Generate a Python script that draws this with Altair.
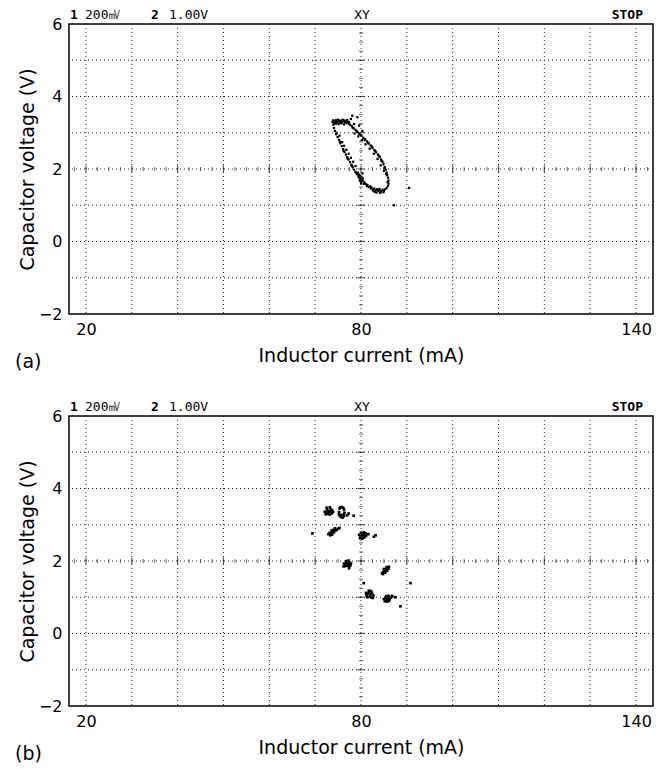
import altair as alt
import pandas as pd

# ---------------- axes / graticule ----------------
X_DOMAIN = [16.3, 143.7]
Y_DOMAIN = [-2, 6]
X_LABELS = [20, 80, 140]
Y_LABELS = [-2, 0, 2, 4, 6]
X_GRID = [20, 30, 40, 50, 60, 70, 80, 90, 100, 110, 120, 130, 140]
Y_GRID = [-1, 0, 1, 2, 3, 4, 5]
X_CENTER = 80
Y_CENTER = 2
RET_Y_MINOR = [-1.75, -1.5, -1.25, -0.75, -0.5, -0.25, 0.25, 0.5, 0.75, 1.25, 1.5, 1.75,
               2.25, 2.5, 2.75, 3.25, 3.5, 3.75, 4.25, 4.5, 4.75, 5.25, 5.5, 5.75]
RET_Y_MAJOR = [-1, 0, 1, 2, 3, 4, 5]
RET_X_MINOR = [17.5, 22.5, 25, 27.5, 32.5, 35, 37.5, 42.5, 45, 47.5, 52.5, 55, 57.5,
               62.5, 65, 67.5, 72.5, 75, 77.5, 82.5, 85, 87.5, 92.5, 95, 97.5,
               102.5, 105, 107.5, 112.5, 115, 117.5, 122.5, 125, 127.5, 132.5, 135,
               137.5, 142.5]
RET_X_MAJOR = [20, 30, 40, 50, 60, 70, 80, 90, 100, 110, 120, 130, 140]

# ---------------- panel (a): limit-cycle loop ----------------
A_X = [73.8, 73.9, 74.0, 74.2, 74.4, 74.6, 74.8, 75.0, 75.2, 75.4, 75.6, 75.8, 76.0, 76.2, 76.5, 76.8, 77.1, 77.3,
       74.0, 74.5, 75.1, 75.7, 76.3,
       77.6, 78.0, 78.4, 78.8, 79.2, 79.6, 80.1, 80.5, 80.9, 81.3, 81.7, 82.1, 82.5, 82.9, 83.3, 83.7, 84.1, 84.4,
       84.7, 84.9, 85.2, 85.4, 85.6, 85.7, 85.9, 86.0, 86.0, 85.9,
       78.6, 79.4, 80.2, 81.0, 81.9, 82.8, 83.6, 84.3, 85.0,
       85.6, 85.3, 85.0, 84.7, 84.4, 84.1, 83.8, 83.5, 83.2, 82.9, 82.6, 82.3, 82.0, 81.7, 81.4, 81.1, 80.8, 80.5,
       80.2, 79.9, 79.6, 79.4,
       79.5, 79.8, 80.1, 80.4, 79.7, 80.0, 80.3, 79.3, 84.9, 84.2, 83.4, 82.7,
       79.1, 78.8, 78.5, 78.2, 77.9, 77.6, 77.3, 77.0, 76.7, 76.4, 76.1, 75.8, 75.5, 75.2, 74.9, 74.6, 74.3, 74.1,
       75.9, 76.3, 76.8, 77.3, 77.8, 78.3, 78.8, 75.3,
       78.1, 79.2, 78.5, 77.8, 79.6, 80.3,
       90.5, 87.2,
       74.3, 74.6, 75.0, 75.5, 76.0, 76.6, 77.0, 77.4, 78.2, 79.0, 79.9, 80.8, 81.6, 82.4, 83.1, 83.9, 84.5, 85.1,
       85.5, 85.8, 84.0, 83.0, 82.2, 81.3, 80.6, 80.0, 78.9, 78.0, 77.1, 76.2, 75.4, 74.7]
A_Y = [3.30, 3.34, 3.27, 3.33, 3.30, 3.35, 3.29, 3.32, 3.34, 3.30, 3.33, 3.28, 3.31, 3.34, 3.30, 3.27, 3.31, 3.25,
       3.22, 3.25, 3.24, 3.26, 3.23,
       3.22, 3.18, 3.12, 3.08, 3.02, 2.97, 2.92, 2.86, 2.82, 2.76, 2.70, 2.65, 2.58, 2.52, 2.46, 2.40, 2.33, 2.26,
       2.20, 2.13, 2.05, 1.98, 1.90, 1.83, 1.76, 1.68, 1.60, 1.54,
       2.98, 2.90, 2.80, 2.68, 2.56, 2.42, 2.28, 2.10, 1.95,
       1.48, 1.44, 1.40, 1.43, 1.38, 1.42, 1.39, 1.44, 1.41, 1.46, 1.43, 1.49, 1.52, 1.50, 1.56, 1.58, 1.62, 1.66,
       1.69, 1.72, 1.76, 1.80,
       1.85, 1.82, 1.78, 1.74, 1.68, 1.60, 1.88, 1.90, 1.36, 1.34, 1.35, 1.40,
       1.86, 1.92, 1.98, 2.05, 2.12, 2.19, 2.26, 2.33, 2.40, 2.47, 2.55, 2.63, 2.71, 2.80, 2.88, 2.96, 3.05, 3.13,
       2.74, 2.64, 2.53, 2.42, 2.31, 2.20, 2.08, 2.92,
       3.47, 3.43, 3.24, 3.38, 3.20, 3.05,
       1.48, 1.00,
       3.27, 3.31, 3.36, 3.28, 3.36, 3.33, 3.35, 3.29, 3.14, 3.05, 2.94, 2.80, 2.72, 2.62, 2.50, 2.36, 2.22, 2.02,
       1.86, 1.64, 1.45, 1.37, 1.46, 1.53, 1.59, 1.65, 1.90, 2.08, 2.28, 2.50, 2.75, 3.00]

# ---------------- panel (b): period-8 clusters ----------------
B_X = [72.1, 72.4, 72.7, 73.0, 73.3, 73.6, 73.9, 72.3, 72.8, 73.2, 73.7, 72.6, 73.4, 72.9, 73.1, 72.5, 73.2,
       75.2, 75.3, 75.5, 75.8, 76.1, 76.3, 76.4, 76.3, 76.0, 75.7, 75.4, 75.2, 75.6, 76.2, 77.3, 77.0,
       72.9, 73.2, 73.5, 73.8, 74.1, 74.4, 74.7, 75.0, 73.3, 73.7, 74.0, 74.3, 73.6, 75.3,
       79.6, 79.9, 80.2, 80.5, 80.8, 81.1, 79.8, 80.3, 80.7, 80.0, 80.6, 81.0, 82.8, 83.2, 81.6,
       76.3, 76.6, 76.9, 77.2, 77.5, 77.8, 76.5, 77.0, 77.4, 76.8, 77.3, 76.2, 77.7,
       84.6, 84.9, 85.2, 85.5, 85.8, 86.1, 84.8, 85.3, 85.7, 85.0, 85.6, 86.0,
       81.2, 81.5, 81.8, 82.1, 82.4, 82.7, 81.4, 81.9, 82.3, 81.7, 82.2, 81.1, 82.6,
       85.0, 85.3, 85.6, 85.9, 86.2, 86.5, 85.2, 85.7, 86.1, 85.5, 86.0, 86.8,
       69.4, 90.8, 88.6, 80.6, 86.8, 77.4, 87.5, 78.4]
B_Y = [3.36, 3.32, 3.38, 3.34, 3.37, 3.31, 3.35, 3.29, 3.30, 3.28, 3.40, 3.42, 3.43, 3.36, 3.32, 3.47, 3.48,
       3.35, 3.45, 3.48, 3.49, 3.47, 3.42, 3.33, 3.24, 3.20, 3.21, 3.24, 3.28, 3.27, 3.28, 3.31, 3.26,
       2.74, 2.78, 2.76, 2.81, 2.79, 2.84, 2.86, 2.89, 2.71, 2.73, 2.86, 2.90, 2.84, 2.91,
       2.72, 2.68, 2.74, 2.70, 2.73, 2.69, 2.63, 2.62, 2.65, 2.78, 2.79, 2.76, 2.67, 2.71, 2.74,
       1.93, 1.90, 1.95, 1.92, 1.96, 1.93, 1.86, 1.87, 1.85, 2.00, 2.01, 1.85, 1.88,
       1.66, 1.70, 1.73, 1.77, 1.80, 1.84, 1.64, 1.68, 1.73, 1.78, 1.83, 1.79,
       1.05, 1.10, 1.13, 1.08, 1.12, 1.05, 1.00, 1.02, 0.99, 1.18, 1.17, 1.12, 0.98,
       0.95, 0.98, 0.93, 0.97, 0.94, 0.99, 0.89, 0.88, 0.90, 1.03, 1.04, 1.02,
       2.76, 1.39, 0.75, 1.39, 1.04, 1.80, 1.00, 3.25]

HEADER = ["1", "200\u33b7", "2", "1.00V", "XY", "STOP"]
X_TITLE = "Inductor current (mA)"
Y_TITLE = "Capacitor voltage (V)"

W, H = 584, 290
TITLE_FONT = "DejaVu Sans"
LABEL_FONT = "DejaVu Sans"
MONO = "DejaVu Sans Mono"

xs = alt.Scale(domain=X_DOMAIN, nice=False, zero=False)
ys = alt.Scale(domain=Y_DOMAIN, nice=False, zero=False)

AXIS_STYLE = dict(
    grid=False, ticks=False, domain=False,
    labelPadding=7, labelFontSize=16, labelFont=LABEL_FONT, labelFlush=False,
    labelColor="black", titleColor="black",
    titleFontSize=19, titleFont=TITLE_FONT, titleFontWeight="normal",
)


def panel(px, py, tag, psize):
    x_axis = alt.Axis(values=X_LABELS, title=X_TITLE, titlePadding=9, **AXIS_STYLE)
    y_axis = alt.Axis(values=Y_LABELS, title=Y_TITLE, titlePadding=1, **AXIS_STYLE)

    X = alt.X("x:Q", scale=xs)
    Y = alt.Y("y:Q", scale=ys)

    vgrid = alt.Chart(pd.DataFrame({"x": X_GRID})).mark_rule(
        strokeDash=[1, 3], color="#222", strokeWidth=1
    ).encode(x=X)
    hgrid = alt.Chart(pd.DataFrame({"y": Y_GRID})).mark_rule(
        strokeDash=[1, 3], color="#222", strokeWidth=1
    ).encode(y=Y)

    ty_min = alt.Chart(pd.DataFrame({"y": RET_Y_MINOR, "x": [X_CENTER] * len(RET_Y_MINOR)})).mark_tick(
        orient="horizontal", size=4, thickness=1, color="#222"
    ).encode(x=X, y=Y)
    ty_maj = alt.Chart(pd.DataFrame({"y": RET_Y_MAJOR, "x": [X_CENTER] * len(RET_Y_MAJOR)})).mark_tick(
        orient="horizontal", size=7, thickness=1.2, color="#111"
    ).encode(x=X, y=Y)
    tx_min = alt.Chart(pd.DataFrame({"x": RET_X_MINOR, "y": [Y_CENTER] * len(RET_X_MINOR)})).mark_tick(
        orient="vertical", size=4, thickness=1, color="#222"
    ).encode(x=X, y=Y)
    tx_maj = alt.Chart(pd.DataFrame({"x": RET_X_MAJOR, "y": [Y_CENTER] * len(RET_X_MAJOR)})).mark_tick(
        orient="vertical", size=7, thickness=1.2, color="#111"
    ).encode(x=X, y=Y)

    pts = alt.Chart(pd.DataFrame({"x": px, "y": py})).mark_square(
        size=psize, color="black", opacity=1
    ).encode(x=alt.X("x:Q", scale=xs, axis=x_axis), y=alt.Y("y:Q", scale=ys, axis=y_axis))

    def txt(s, xpx, align, bold):
        return alt.Chart(pd.DataFrame({"t": [s]})).mark_text(
            align=align, baseline="middle", font=MONO, fontSize=13,
            fontWeight="bold" if bold else "normal", color="black"
        ).encode(text="t:N", x=alt.value(xpx), y=alt.value(-9))

    header = [
        txt(HEADER[0], 1, "left", True),
        txt(HEADER[1], 16, "left", False),
        txt(HEADER[2], 82, "left", True),
        txt(HEADER[3], 100, "left", False),
        txt(HEADER[4], 293, "center", False),
        txt(HEADER[5], 574, "right", True),
    ]
    lab = alt.Chart(pd.DataFrame({"t": [tag]})).mark_text(
        align="left", baseline="middle", font=TITLE_FONT, fontSize=19, color="black"
    ).encode(text="t:N", x=alt.value(-54), y=alt.value(338))

    return alt.layer(pts, vgrid, hgrid, ty_min, ty_maj, tx_min, tx_maj, *header, lab).properties(
        width=W, height=H
    )


chart = alt.vconcat(
    panel(A_X, A_Y, "(a)", 5),
    panel(B_X, B_Y, "(b)", 7),
    spacing=27,
).properties(
    padding={"left": 6, "top": 0, "right": 0, "bottom": 0},
    background="white",
).configure_view(
    stroke="black", strokeWidth=1.5
)

chart.save("out.html", embed_options={"renderer": "svg", "actions": False})
